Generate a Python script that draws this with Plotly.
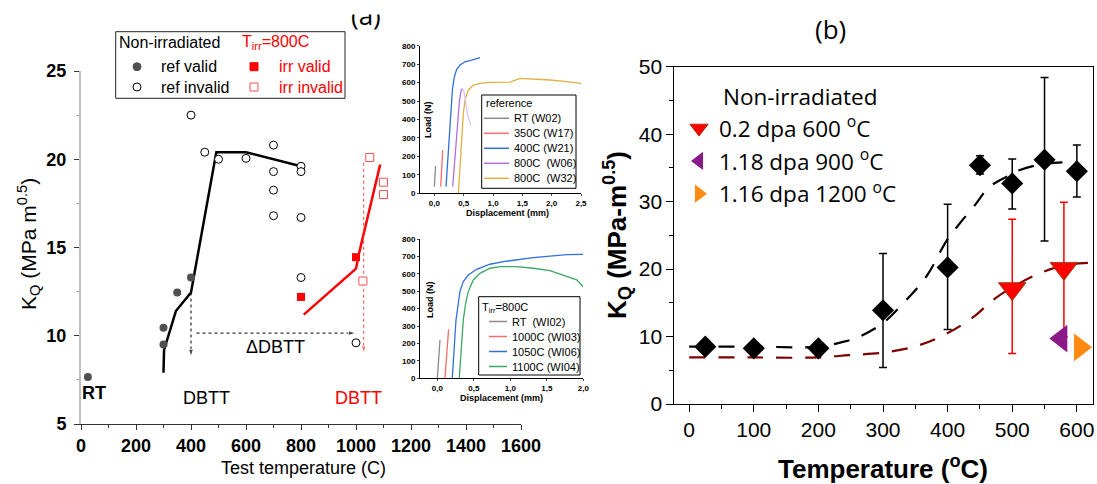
import plotly.graph_objects as go

W, H = 1097, 484
def fx(p): return p / W
def fy(p): return 1 - p / H

AR = "Liberation Sans"
OS = "Open Sans"

# ---------------- panel (a): K_Q vs test temperature ----------------
ref_valid_T = [25, 300, 300, 350, 400]
ref_valid_K = [7.66, 9.5, 10.45, 12.45, 13.3]
ref_invalid_T = [400, 450, 500, 600, 700, 700, 700, 700, 800, 800, 800, 800, 1000]
ref_invalid_K = [22.5, 20.4, 20.0, 20.05, 20.8, 19.3, 18.25, 16.8, 19.6, 19.3, 16.7, 13.3, 9.6]
irr_valid_T = [800, 1000]
irr_valid_K = [12.2, 14.45]
irr_invalid_T = [1025, 1050, 1100, 1100]
irr_invalid_K = [13.1, 20.1, 18.7, 18.0]
ref_fit_T = [300, 302, 345, 400, 492, 600, 800]
ref_fit_K = [7.9, 9.2, 11.4, 12.45, 20.4, 20.4, 19.6]
irr_fit_T = [810, 1000, 1010, 1088]
irr_fit_K = [11.2, 13.8, 14.6, 19.7]
arrow_ref_T = [400, 400]
arrow_ref_K = [12.45, 8.8]
arrow_delta_T = [420, 1000]
arrow_delta_K = [10.15, 10.15]
arrow_irr_T = [1028, 1028]
arrow_irr_K = [19.8, 9.0]
xticks_a = [0, 200, 400, 600, 800, 1000, 1200, 1400, 1600]
yticks_a = [5, 10, 15, 20, 25]

# ---------------- inset 1: reference load-displacement ----------------
ins1_names = ["RT (W02)", "350C (W17)", "400C (W21)", "800C  (W06)", "800C  (W32)"]
ins1_colors = ["#8a8a8a", "#ff6b6b", "#2f6fe0", "#b070e0", "#e0b040"]
ins1_d = [
    [0.0, 0.02],
    [0.108, 0.142],
    [0.199, 0.227, 0.267, 0.284, 0.307, 0.341, 0.381, 0.4375, 0.523, 0.636, 0.778],
    [0.3125, 0.352, 0.392, 0.426, 0.4545, 0.477],
    [0.409, 0.4375, 0.466, 0.494, 0.528, 0.58, 0.665, 0.778, 0.949, 1.29, 1.46, 1.6875, 1.97, 2.256, 2.5],
]
ins1_F = [
    [36, 148],
    [36, 235],
    [36, 181, 343, 470, 560, 632, 672, 695, 713, 722, 735],
    [36, 199, 361, 497, 556, 567],
    [0, 163, 307, 433, 515, 560, 587, 596, 601, 603, 623, 619, 614, 605, 596],
]
ins1_W06_drop_d = [0.477, 0.5, 0.528, 0.5625, 0.619]
ins1_W06_drop_F = [567, 556, 506, 433, 370]

# ---------------- inset 2: irradiated load-displacement ----------------
ins2_names = ["RT  (WI02)", "1000C (WI03)", "1050C (WI06)", "1100C (WI04)"]
ins2_colors = ["#8a8a8a", "#ff6b6b", "#2f6fe0", "#3aa860"]
ins2_d = [
    [0.0, 0.037],
    [0.105, 0.155],
    [0.205, 0.256, 0.288, 0.31, 0.356, 0.425, 0.539, 0.721, 0.904, 1.132, 1.315, 1.543, 1.772, 2.0],
    [0.301, 0.356, 0.388, 0.425, 0.493, 0.584, 0.721, 0.858, 1.087, 1.315, 1.543, 1.772, 1.909, 2.0],
]
ins2_F = [
    [0, 220],
    [0, 281],
    [0, 335, 431, 498, 555, 593, 626, 655, 670, 683, 693, 702, 710, 712],
    [0, 335, 431, 498, 565, 603, 632, 641, 641, 632, 618, 584, 565, 526],
]
ins_load_ticks = [0, 100, 200, 300, 400, 500, 600, 700, 800]
ins1_xticks = [0.0, 0.5, 1.0, 1.5, 2.0, 2.5]
ins1_xtext = ["0,0", "0,5", "1,0", "1,5", "2,0", "2,5"]
ins2_xticks = [0.0, 0.5, 1.0, 1.5, 2.0]
ins2_xtext = ["0,0", "0,5", "1,0", "1,5", "2,0"]

# ---------------- panel (b) ----------------
nonirr_T = [25, 100, 200, 300, 400, 450, 500, 550, 600]
nonirr_K = [8.5, 8.25, 8.25, 13.9, 20.25, 35.4, 32.7, 36.2, 34.5]
nonirr_err_plus = [0, 0, 0, 8.4, 9.35, 1.4, 3.6, 12.2, 3.9]
nonirr_err_minus = [0, 0, 0, 8.5, 9.2, 1.3, 3.8, 12.05, 3.8]
irr600_T = [500, 580]
irr600_K = [17.1, 20.1]
irr600_err_plus = [10.3, 9.8]
irr600_err_minus = [9.6, 10.1]
irr900_T = [576]
irr900_K = [9.7]
irr1200_T = [605]
irr1200_K = [8.4]
fit_nonirr_T = [0, 100, 200, 238, 264, 300, 331, 367, 399, 419, 440, 465, 496, 512, 550, 600]
fit_nonirr_K = [8.5, 8.5, 8.5, 9.2, 10.0, 12.0, 14.9, 18.9, 24.3, 26.8, 29.2, 32.2, 33.9, 34.7, 35.6, 35.9]
fit_irr_T = [0, 100, 200, 248, 300, 352, 398, 440, 470, 502, 548, 584, 625]
fit_irr_K = [6.9, 6.9, 6.9, 7.25, 7.6, 8.6, 10.4, 12.9, 15.4, 17.4, 19.6, 20.6, 20.95]

fig = go.Figure()

# ---- panel (a) traces
fig.add_trace(go.Scatter(x=ref_fit_T, y=ref_fit_K, mode="lines", line=dict(color="black", width=2.5),
                         showlegend=False, xaxis="x", yaxis="y", hoverinfo="skip"))
fig.add_trace(go.Scatter(x=irr_fit_T, y=irr_fit_K, mode="lines", line=dict(color="#ff0000", width=2.5),
                         showlegend=False, xaxis="x", yaxis="y", hoverinfo="skip"))
for ax, ay, col in [(arrow_ref_T, arrow_ref_K, "black"), (arrow_delta_T, arrow_delta_K, "black"),
                    (arrow_irr_T, arrow_irr_K, "#ff4040")]:
    fig.add_trace(go.Scatter(x=ax, y=ay, mode="lines+markers",
                             line=dict(color=col, width=1, dash="3px,3px"),
                             marker=dict(symbol="arrow", size=[0, 8], angleref="previous", color=col),
                             showlegend=False, xaxis="x", yaxis="y", hoverinfo="skip"))
fig.add_trace(go.Scatter(x=ref_valid_T, y=ref_valid_K, mode="markers", name="ref valid",
                         marker=dict(symbol="circle", size=8, color="#505050"),
                         showlegend=False, xaxis="x", yaxis="y"))
fig.add_trace(go.Scatter(x=ref_invalid_T, y=ref_invalid_K, mode="markers", name="ref invalid",
                         marker=dict(symbol="circle", size=8, color="white", line=dict(color="black", width=1)),
                         showlegend=False, xaxis="x", yaxis="y"))
fig.add_trace(go.Scatter(x=irr_valid_T, y=irr_valid_K, mode="markers", name="irr valid",
                         marker=dict(symbol="square", size=8, color="#ff0000"),
                         showlegend=False, xaxis="x", yaxis="y"))
fig.add_trace(go.Scatter(x=irr_invalid_T, y=irr_invalid_K, mode="markers", name="irr invalid",
                         marker=dict(symbol="square", size=8, color="white", line=dict(color="#ff5050", width=1)),
                         showlegend=False, xaxis="x", yaxis="y"))

# ---- inset 1
for i in range(len(ins1_names)):
    fig.add_trace(go.Scatter(x=ins1_d[i], y=ins1_F[i], mode="lines", name=ins1_names[i],
                             line=dict(color=ins1_colors[i], width=1.3), showlegend=False,
                             xaxis="x2", yaxis="y2"))
fig.add_trace(go.Scatter(x=ins1_W06_drop_d, y=ins1_W06_drop_F, mode="lines", showlegend=False,
                         line=dict(color="#dcc2f2", width=1.3), xaxis="x2", yaxis="y2"))
# ---- inset 2
for i in range(len(ins2_names)):
    fig.add_trace(go.Scatter(x=ins2_d[i], y=ins2_F[i], mode="lines", name=ins2_names[i],
                             line=dict(color=ins2_colors[i], width=1.3), showlegend=False,
                             xaxis="x3", yaxis="y3"))

# ---- panel (b)
fig.add_trace(go.Scatter(x=fit_irr_T, y=fit_irr_K, mode="lines", line=dict(color="#800000", width=2.2, dash="16px,13px", shape="spline"),
                         showlegend=False, xaxis="x4", yaxis="y4", hoverinfo="skip"))
fig.add_trace(go.Scatter(x=fit_nonirr_T, y=fit_nonirr_K, mode="lines", line=dict(color="black", width=2.2, dash="16px,13px", shape="spline"),
                         showlegend=False, xaxis="x4", yaxis="y4", hoverinfo="skip"))
fig.add_trace(go.Scatter(x=nonirr_T, y=nonirr_K, mode="markers", name="Non-irradiated",
                         marker=dict(symbol="diamond", size=17, color="black"),
                         error_y=dict(type="data", array=nonirr_err_plus, arrayminus=nonirr_err_minus,
                                      color="black", thickness=1.5, width=4),
                         showlegend=False, xaxis="x4", yaxis="y4"))
fig.add_trace(go.Scatter(x=irr600_T, y=irr600_K, mode="markers", name="0.2 dpa 600 <sup>o</sup>C",
                         marker=dict(symbol="triangle-down", size=24, color="#ff0000", line=dict(color="#8b3a00", width=0.8)),
                         error_y=dict(type="data", array=irr600_err_plus, arrayminus=irr600_err_minus,
                                      color="#ff0000", thickness=1.5, width=4),
                         legendgroup="g1", xaxis="x4", yaxis="y4"))
fig.add_trace(go.Scatter(x=irr900_T, y=irr900_K, mode="markers", name="1.18 dpa 900 <sup>o</sup>C",
                         marker=dict(symbol="triangle-left", size=24, color="#8a1a8a"),
                         legendgroup="g2", xaxis="x4", yaxis="y4"))
fig.add_trace(go.Scatter(x=irr1200_T, y=irr1200_K, mode="markers", name="1.16 dpa 1200 <sup>o</sup>C",
                         marker=dict(symbol="triangle-right", size=24, color="#ff8a10"),
                         legendgroup="g3", xaxis="x4", yaxis="y4"))

tf_a = dict(family=AR, size=18, color="black", weight="bold")
tf_in = dict(family=AR, size=8, color="black", weight="bold")
tf_b = dict(family=AR, size=21, color="black")

common = dict(showgrid=False, zeroline=False, automargin=False)
layout = dict(
    width=W, height=H, margin=dict(l=0, r=0, t=0, b=0, autoexpand=False),
    paper_bgcolor="white", plot_bgcolor="rgba(0,0,0,0)",
    font=dict(family=AR, color="black"),
    # panel (a)
    xaxis=dict(domain=[fx(81), fx(521)], range=[0, 1600], anchor="y", tickvals=xticks_a,
               ticks="outside", ticklen=5, tickcolor="#333", showline=True, linecolor="#333", linewidth=1,
               minor=dict(dtick=100, tick0=0, ticks="outside", ticklen=3, tickcolor="#333"),
               tickfont=tf_a, **common),
    yaxis=dict(domain=[fy(424), fy(71)], range=[5, 25], anchor="x", tickvals=yticks_a,
               ticks="outside", ticklen=5, tickcolor="#333", showline=True, linecolor="#c0c0c0", linewidth=2,
               minor=dict(dtick=2.5, tick0=5, ticks="outside", ticklen=2, tickcolor="#999"),
               tickfont=tf_a, ticklabelstandoff=4, **common),
    # inset 1
    xaxis2=dict(domain=[fx(420), fx(581)], range=[-0.245, 2.5], anchor="y2", tickvals=ins1_xticks, ticktext=ins1_xtext,
                ticks="outside", ticklen=2, showline=True, linecolor="black", linewidth=1,
                tickfont=tf_in, **common),
    yaxis2=dict(domain=[fy(193.3), fy(45.7)], range=[0, 800], anchor="x2", tickvals=ins_load_ticks,
                ticks="outside", ticklen=2, showline=True, linecolor="black", linewidth=1,
                tickfont=tf_in, **common),
    # inset 2
    xaxis3=dict(domain=[fx(420), fx(583.3)], range=[-0.237, 2.0], anchor="y3", tickvals=ins2_xticks, ticktext=ins2_xtext,
                ticks="outside", ticklen=2, showline=True, linecolor="black", linewidth=1,
                tickfont=tf_in, **common),
    yaxis3=dict(domain=[fy(378.3), fy(239)], range=[0, 800], anchor="x3", tickvals=ins_load_ticks,
                ticks="outside", ticklen=2, showline=True, linecolor="black", linewidth=1,
                tickfont=tf_in, **common),
    # panel (b)
    xaxis4=dict(domain=[fx(674.3), fx(1093)], range=[-23, 625], anchor="y4", dtick=100, tick0=0,
                ticks="outside", ticklen=7, tickcolor="black", showline=True, linecolor="black", linewidth=1, mirror=True,
                minor=dict(dtick=50, tick0=0, ticks="outside", ticklen=4, tickcolor="black"),
                tickfont=tf_b, **common),
    yaxis4=dict(domain=[fy(404), fy(66.7)], range=[0, 50], anchor="x4", dtick=10, tick0=0,
                ticks="outside", ticklen=7, tickcolor="black", showline=True, linecolor="black", linewidth=1, mirror=True,
                minor=dict(dtick=5, tick0=0, ticks="outside", ticklen=4, tickcolor="black"),
                tickfont=tf_b, **common),
    legend=dict(x=fx(679), y=fy(107), xanchor="left", yanchor="top", bgcolor="rgba(0,0,0,0)",
                font=dict(family=OS, size=22.5, color="black"), tracegroupgap=0.5, itemsizing="trace"),
)
fig.update_layout(**layout)

shapes = []
ann = []

def add_text(text, x, y, size, color="black", family=AR, anchor="left", weight="normal", angle=0, data=False):
    if data:
        xx, yy, xr, yr = x, y, "x", "y"
    else:
        xx, yy, xr, yr = fx(x), fy(y), "paper", "paper"
    ann.append(dict(text=text, x=xx, y=yy, xref=xr, yref=yr, showarrow=False, xanchor=anchor, yanchor="middle",
                    textangle=angle, font=dict(family=family, size=size, color=color, weight=weight)))

def pxshape(kind, x0, y0, x1, y1, **kw):
    shapes.append(dict(type=kind, xref="paper", yref="paper", x0=fx(x0), x1=fx(x1), y0=fy(y1), y1=fy(y0), **kw))

# ---- panel (a) legend (drawn in pixel positions)
pxshape("rect", 115.7, 31.7, 345, 98.3, line=dict(color="#222", width=1))
add_text("Non-irradiated", 116.5, 43, 16)
add_text("T<sub>irr</sub>=800C", 240, 43, 16, color="#ff0000")
pxshape("circle", 133, 62.7, 141, 70.7, fillcolor="#505050", line=dict(color="#505050", width=1))
add_text("ref valid", 159, 66.7, 16)
pxshape("circle", 133, 83, 141, 91, fillcolor="white", line=dict(color="black", width=1))
add_text("ref invalid", 159, 87, 16)
pxshape("rect", 250, 62.7, 258, 70.7, fillcolor="#ff0000", line=dict(color="#ff0000", width=1))
add_text("irr valid", 277, 66.7, 16, color="#ff0000")
pxshape("rect", 250, 83, 258, 91, fillcolor="white", line=dict(color="#ff5050", width=1))
add_text("irr invalid", 277, 87, 16, color="#ff0000")

# ---- inset legends
pxshape("rect", 481.7, 95, 576, 188.3, fillcolor="white", line=dict(color="black", width=1), layer="below")
add_text("reference", 483.5, 103, 11)
for i, name in enumerate(ins1_names):
    yy = 118.3 + 15 * i
    pxshape("line", 484, yy, 509, yy, line=dict(color=ins1_colors[i], width=1.5))
    add_text(name, 512, yy, 11)
pxshape("rect", 478.7, 296.7, 580, 375, fillcolor="white", line=dict(color="black", width=1), layer="below")
add_text("T<sub>irr</sub>=800C", 480, 307.5, 11)
for i, name in enumerate(ins2_names):
    yy = 321.5 + 15 * i
    pxshape("line", 489, yy, 507, yy, line=dict(color=ins2_colors[i], width=1.5))
    add_text(name, 509.5, yy, 11)

# ---- other texts
add_text("(a)", 366, 15, 26, family=OS, anchor="center")
# white strip that hides the top of the clipped "(a)" label, as in the source figure
ann.append(dict(text="MMMMMMMM", x=fx(366), y=fy(7), xref="paper", yref="paper", showarrow=False, xanchor="center",
                yanchor="middle", width=70, height=14, bgcolor="white", borderpad=0,
                font=dict(family=AR, size=9, color="white")))
add_text("(b)", 830, 29, 26, family=OS, anchor="center")
add_text("Test temperature (C)", 303, 468, 18, anchor="center")
add_text("K<sub>Q</sub> (MPa m<sup>0.5</sup>)", 28, 244, 21, anchor="center", angle=-90)
ann_a = [("RT", 47, 6.76, "black", "bold"), ("DBTT", 455, 6.47, "black", "normal"),
         ("\u0394DBTT", 709, 9.36, "black", "normal"), ("DBTT", 1008, 6.47, "#ff0000", "normal")]
for t, xx, yy, c, wgt in ann_a:
    add_text(t, xx, yy, 18, color=c, anchor="center", weight=wgt, data=True)
add_text("Load (N)", 428, 120, 9, anchor="center", weight="bold", angle=-90)
add_text("Load (N)", 430, 300, 9, anchor="center", weight="bold", angle=-90)
add_text("Displacement (mm)", 507, 213, 9, anchor="center", weight="bold")
add_text("Displacement (mm)", 501, 398, 9, anchor="center", weight="bold")
add_text("Non-irradiated", 721, 97, 22.5, family=OS)
add_text("K<sub>Q</sub> (MPa-m<sup>0.5</sup>)", 617, 235, 26, anchor="center", weight="bold", angle=-90)
add_text("Temperature (<sup>o</sup>C)", 883, 467, 26, anchor="center", weight="bold")

fig.update_layout(shapes=shapes, annotations=ann)

fig.write_html("out.html", config={"displayModeBar": False},
               post_script="document.body.style.margin='0px';document.body.style.overflow='hidden';")
